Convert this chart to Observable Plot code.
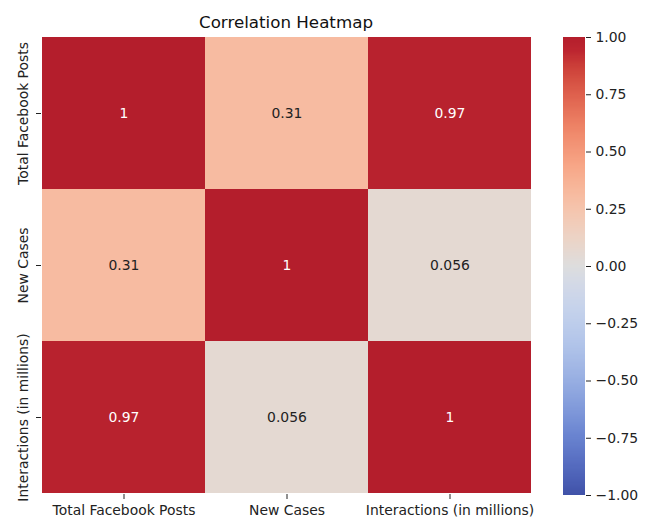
<!DOCTYPE html>
<html>
<head>
<meta charset="utf-8">
<script src="https://cdn.jsdelivr.net/npm/d3@7"></script>
<script src="https://cdn.jsdelivr.net/npm/@observablehq/plot@0.6"></script>
<style>
  html, body { margin: 0; padding: 0; background: #fff; }
  #wrap { position: relative; width: 648px; height: 520px; font-family: "DejaVu Sans", sans-serif; }
  #wrap svg { position: absolute; left: 0; top: 0; }
  #title { position: absolute; left: 41px; width: 490px; top: 12px; text-align: center; font-size: 16.7px; color: #111; }
</style>
</head>
<body>
<div id="wrap"><div id="title">Correlation Heatmap</div></div>
<script>
const variables = ["Total Facebook Posts", "New Cases", "Interactions (in millions)"];
const corrRow0 = [1, 0.31, 0.97];
const corrRow1 = [0.31, 1, 0.056];
const corrRow2 = [0.97, 0.056, 1];
const corrLabels0 = ["1", "0.31", "0.97"];
const corrLabels1 = ["0.31", "1", "0.056"];
const corrLabels2 = ["0.97", "0.056", "1"];
const colorbarTicks = [-1, -0.75, -0.5, -0.25, 0, 0.25, 0.5, 0.75, 1];

// coolwarm-like control colours (as they appear in the picture)
const coolwarmStops = [
  [64,82,168],[74,94,180],[84,106,190],[94,118,199],[104,130,207],[116,142,213],[128,153,218],[140,164,222],
  [151,174,226],[162,183,229],[172,192,232],[181,199,234],[189,205,235],[197,210,235],[205,214,233],[213,218,229],
  [221,221,221],[229,216,209],[236,211,197],[241,204,185],[245,196,173],[247,187,160],[247,177,148],[247,166,135],
  [244,154,123],[241,141,111],[236,127,99],[229,112,88],[222,96,77],[213,80,66],[203,62,56],[189,38,48],[180,30,44]
].map(c => `rgb(${c[0]},${c[1]},${c[2]})`);
const coolwarm = d3.piecewise(d3.interpolateRgb, coolwarmStops);

const rows = [corrRow0, corrRow1, corrRow2];
const labs = [corrLabels0, corrLabels1, corrLabels2];
const cells = [];
rows.forEach((r, i) => r.forEach((v, j) => cells.push({row: variables[i], col: variables[j], value: v, label: labs[i][j]})));

const colorOpt = {type: "linear", domain: [-1, 1], interpolate: coolwarm};
const baseStyle = {fontFamily: "DejaVu Sans, sans-serif", fontSize: "13.9px", background: "transparent", color: "#222"};

const heat = Plot.plot({
  width: 648, height: 520,
  marginLeft: 41, marginRight: 117, marginTop: 36, marginBottom: 26,
  style: baseStyle,
  x: {domain: variables, padding: 0, label: null},
  y: {domain: variables, padding: 0, label: null},
  color: colorOpt,
  marks: [
    Plot.cell(cells, {x: "col", y: "row", fill: "value", inset: 0}),
    Plot.text(cells, {x: "col", y: "row", text: "label", fontSize: 13.9,
      fill: d => d.value > 0.6 ? "#ffffff" : "#222222"}),
    Plot.axisX({tickSize: 5, tickPadding: 6, label: null, fontSize: 13.9}),
    Plot.axisY({tickSize: 5, tickRotate: -90, tickPadding: 9, label: null, fontSize: 13.9})
  ]
});
document.getElementById("wrap").appendChild(heat);

const steps = d3.range(-1, 1, 0.005);
const bar = Plot.plot({
  width: 648, height: 520,
  marginLeft: 563, marginRight: 63, marginTop: 37, marginBottom: 25,
  style: baseStyle,
  x: {domain: [0, 1], axis: null},
  y: {domain: [-1, 1], axis: null},
  color: colorOpt,
  marks: [
    Plot.rect(steps, {x1: 0, x2: 1, y1: d => d, y2: d => d + 0.006, fill: d => d + 0.0025, shapeRendering: "crispEdges"}),
    Plot.axisY({anchor: "right", ticks: colorbarTicks, tickFormat: d3.format(".2f"), tickSize: 5, tickPadding: 5, label: null, fontSize: 13.9})
  ]
});
document.getElementById("wrap").appendChild(bar);
</script>
</body>
</html>
